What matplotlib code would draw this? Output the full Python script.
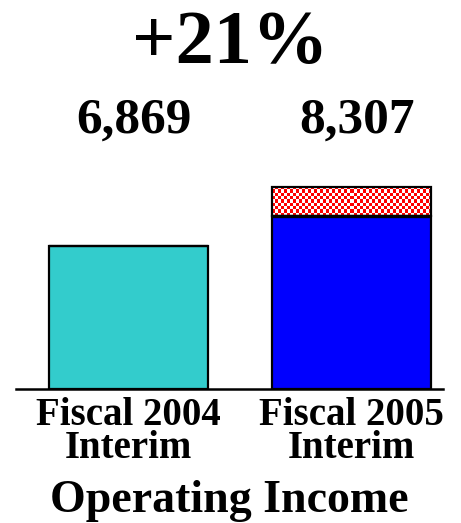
import matplotlib
matplotlib.use("Agg")
import matplotlib.pyplot as plt
import numpy as np

plt.rcParams["font.family"] = ["Liberation Serif", "DejaVu Serif"]
plt.rcParams["font.weight"] = "bold"

categories = ["Fiscal 2004\nInterim", "Fiscal 2005\nInterim"]
base_values = [6869, 8307]
extra_values = [0, 1400]          # hatched segment on top of 2005 bar
value_labels = ["6,869", "8,307"]
growth_label = "+21%"
bar_colors = ["#33CCCC", "#0000FF"]

fig = plt.figure(figsize=(4.61, 5.23), dpi=100)
ax = fig.add_axes([0.0347, 0.2562, 0.9262, 0.5526])

x = np.arange(len(categories))
bars = ax.bar(x, base_values, width=0.713, color=bar_colors,
              edgecolor="black", linewidth=1.6, zorder=2)
tops = ax.bar(x, extra_values, bottom=base_values, width=0.713,
              color="white", edgecolor="black", linewidth=1.6, zorder=3)

# red / white checker texture inside the extra segment
for rect, h in zip(tops, extra_values):
    if h <= 0:
        continue
    x0, y0 = rect.get_x(), rect.get_y()
    w, hh = rect.get_width(), rect.get_height()
    nx, ny = 53, 9
    ii, jj = np.indices((ny, nx))
    chk = (ii + jj) % 2
    img = np.ones((ny, nx, 3))
    img[chk == 1] = [1, 0, 0]
    im = ax.imshow(img, extent=[x0, x0 + w, y0, y0 + hh], aspect="auto",
                   interpolation="nearest", zorder=2.5)
    im.set_clip_path(rect)
    rect.set_facecolor("none")
    ax.plot([x0, x0 + w], [y0, y0], color="black", linewidth=2.4, zorder=4,
            solid_capstyle="butt")

ax.set_xlim(-0.5045, 1.41)
ax.set_ylim(0, 13882)
ax.set_xticks(x)
ax.set_xticklabels(categories, fontsize=28, fontweight="bold", linespacing=0.85)
ax.tick_params(axis="x", length=0, pad=6)
ax.set_yticks([])
for s in ["left", "right", "top"]:
    ax.spines[s].set_visible(False)
ax.spines["bottom"].set_linewidth(1.8)
ax.set_xlabel("Operating Income", fontsize=33, fontweight="bold", labelpad=9)

for xi, lab in zip(x, value_labels):
    fig.text(ax.transData.transform((xi, 0))[0] / fig.bbox.width + 0.012, 0.7457,
             lab, ha="center", va="baseline", fontsize=37, fontweight="bold")
fig.text(0.499, 0.8795, growth_label, ha="center", va="baseline",
         fontsize=55, fontweight="bold")

fig.savefig("out.png", dpi=100)
